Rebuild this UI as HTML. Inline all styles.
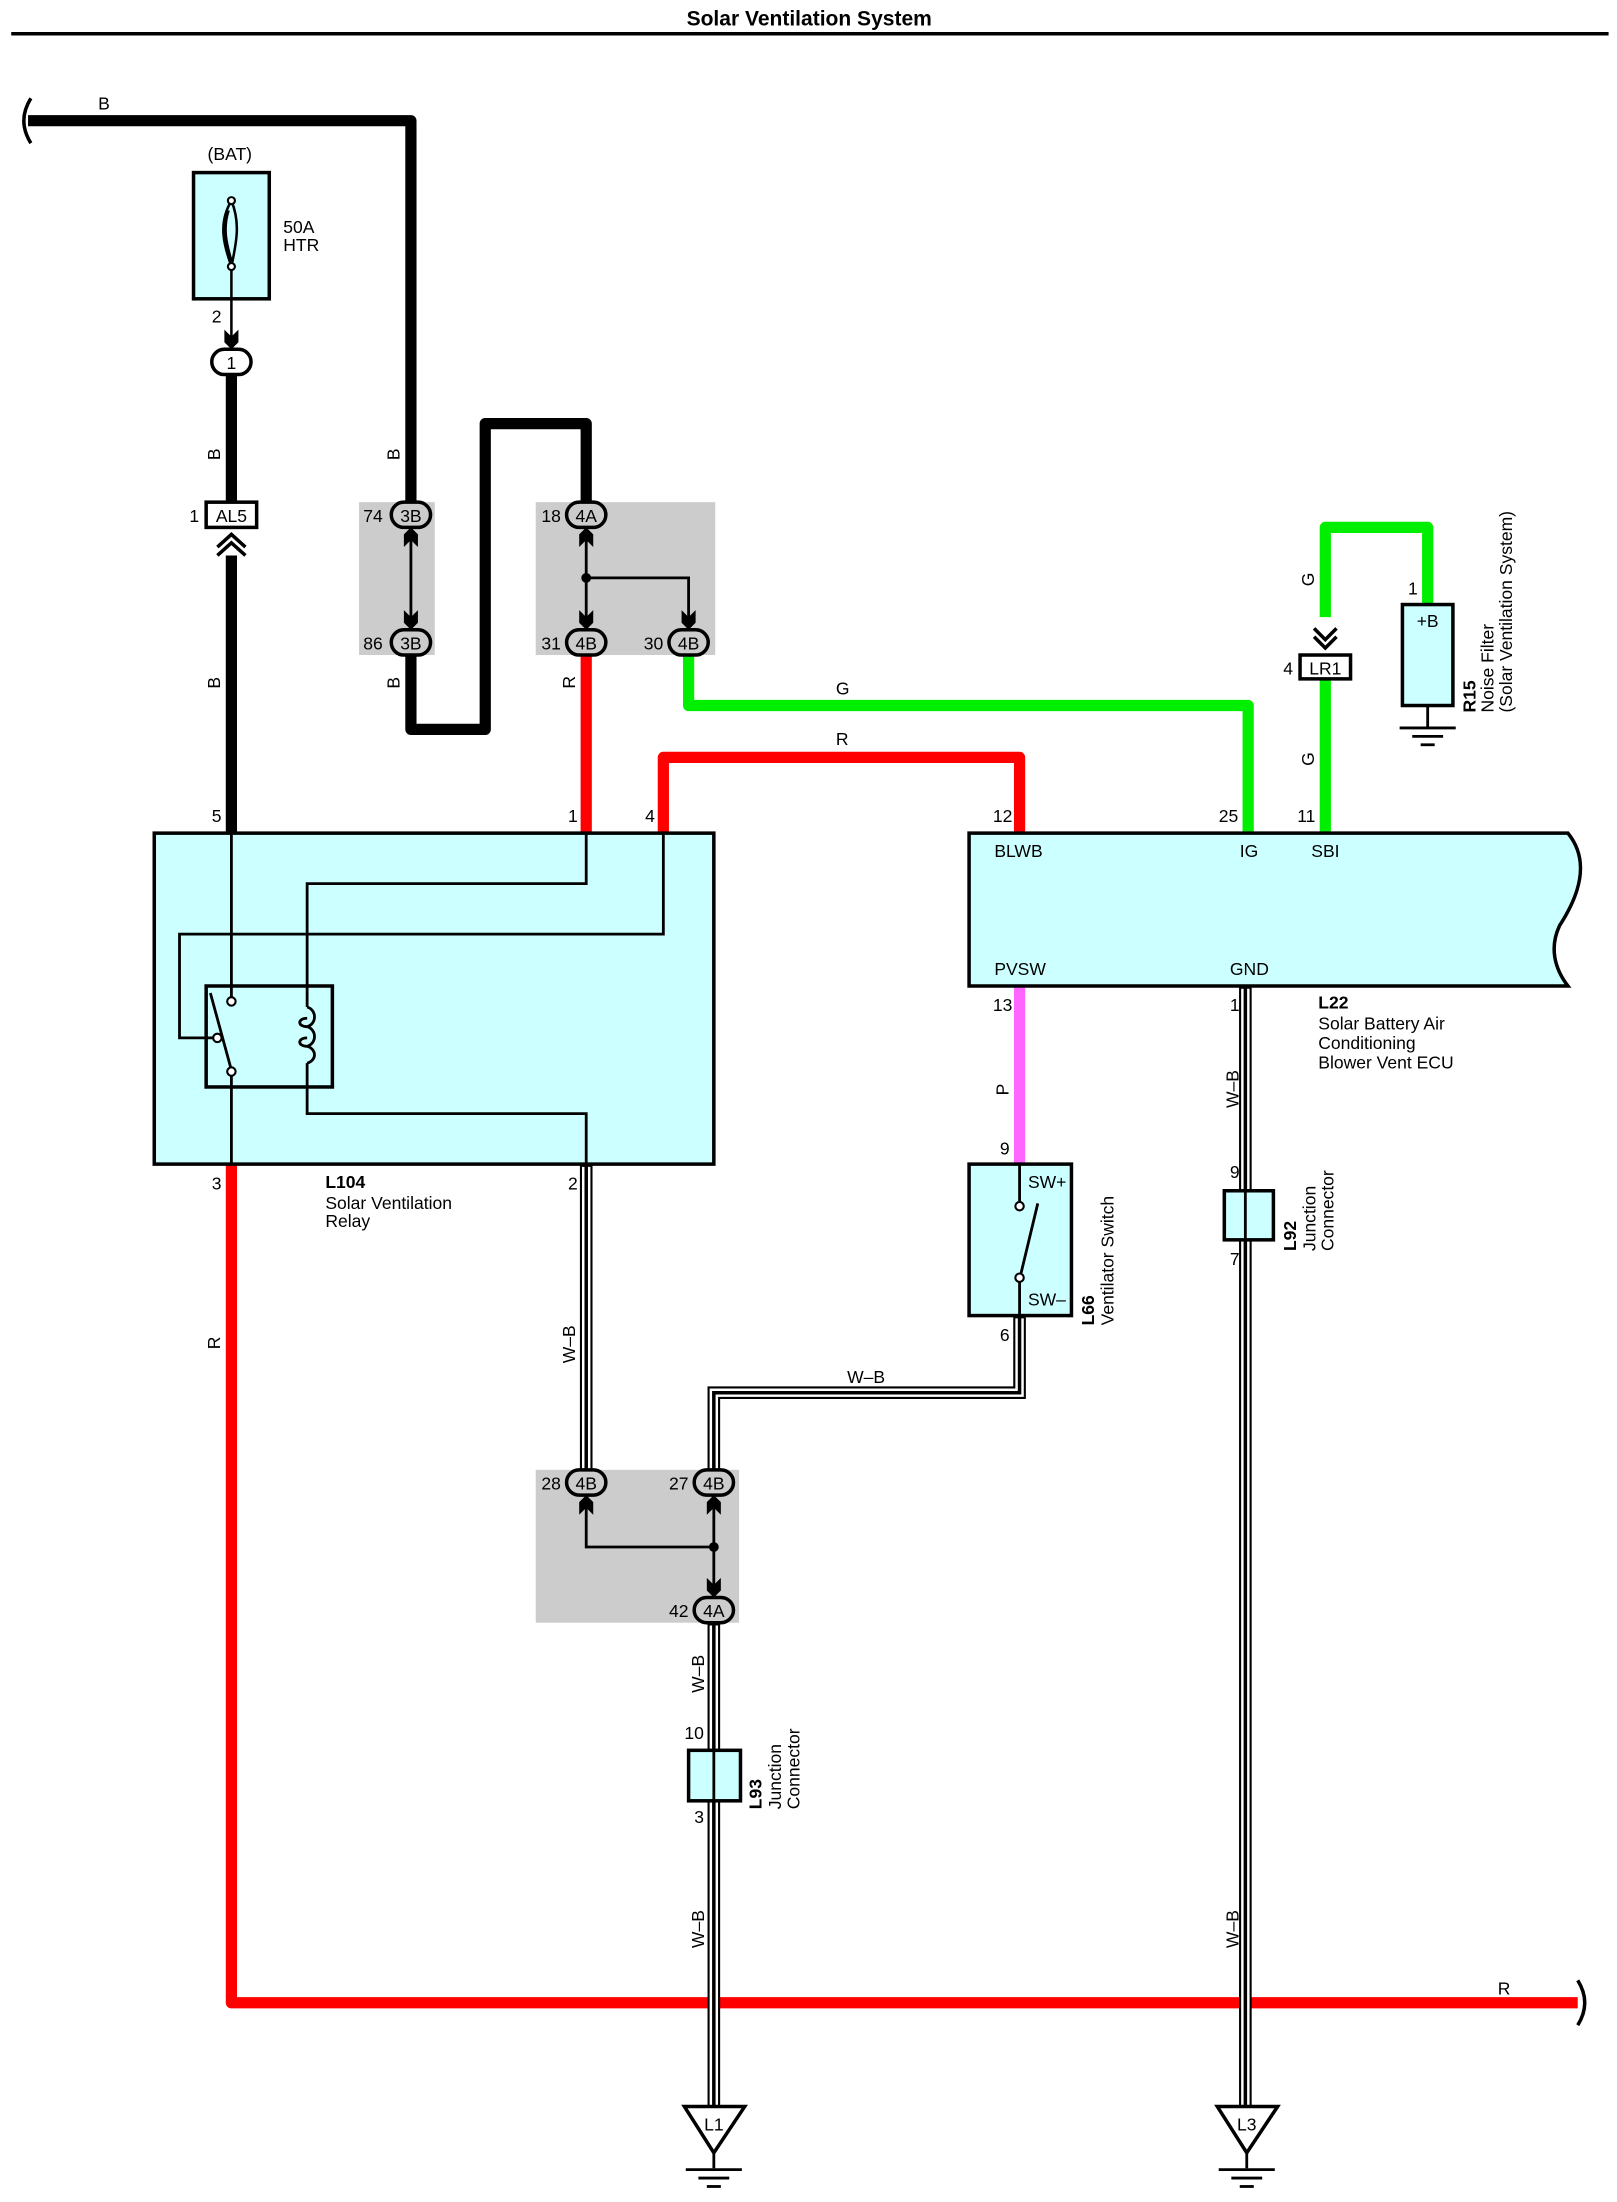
<!DOCTYPE html>
<html><head><meta charset="utf-8"><style>
html,body{margin:0;padding:0;background:#fff}
svg{display:block}
text{font-family:"Liberation Sans",sans-serif;font-size:12.5px;fill:#000}
.b{font-weight:bold}
</style></head><body>
<svg width="1617" height="2202" viewBox="0 0 1153 1570" xmlns="http://www.w3.org/2000/svg">
<defs>
<g id="au"><polygon points="-5,14 -5,5 0,0 5,5 5,14 0,9" fill="#000"/></g>
<g id="ad"><polygon points="-5,-14 -5,-5 0,0 5,-5 5,-14 0,-9" fill="#000"/></g>
<g id="gnd"><line x1="-20" y1="0" x2="20" y2="0" stroke="#000" stroke-width="2"/><line x1="-11" y1="6" x2="11" y2="6" stroke="#000" stroke-width="2"/><line x1="-5" y1="12" x2="5" y2="12" stroke="#000" stroke-width="2"/></g>
</defs>
<text x="577" y="18" text-anchor="middle" class="b" style="font-size:15px">Solar Ventilation System</text>
<line x1="8" y1="24" x2="1147" y2="24" stroke="#000" stroke-width="2.5"/>

<!-- grey boxes -->
<rect x="256" y="358" width="54" height="109" fill="#cccccc"/>
<rect x="382" y="358" width="128" height="109" fill="#cccccc"/>
<rect x="382" y="1048" width="145" height="109" fill="#cccccc"/>

<!-- black wires -->
<g fill="none" stroke="#000" stroke-width="8" stroke-linejoin="round">
<polyline points="20,86 293,86 293,358"/>
<polyline points="293,467 293,520 346,520 346,302 418,302 418,358"/>
<line x1="165" y1="268" x2="165" y2="358"/>
<line x1="165" y1="396" x2="165" y2="594"/>
</g>
<path d="M22,70 Q12,86 22,102" fill="none" stroke="#000" stroke-width="2.5"/>
<text x="70" y="78">B</text>

<!-- red wires -->
<g fill="none" stroke="#ff0000" stroke-width="8" stroke-linejoin="round">
<line x1="418" y1="467" x2="418" y2="594"/>
<polyline points="473,594 473,540 727,540 727,594"/>
<polyline points="165,830 165,1428 1125,1428"/>
</g>
<path d="M1125,1412 Q1135,1428 1125,1444" fill="none" stroke="#000" stroke-width="2.5"/>
<!-- green -->
<g fill="none" stroke="#00ee00" stroke-width="8" stroke-linejoin="round">
<polyline points="491,467 491,503 890,503 890,594"/>
<polyline points="945,594 945,484"/>
<polyline points="945,440 945,376 1018,376 1018,431"/>
</g>
<!-- pink -->
<line x1="727" y1="703" x2="727" y2="830" stroke="#ff66ff" stroke-width="8"/>

<!-- W-B wires -->
<g fill="none" stroke-linejoin="miter">
<g stroke="#000" stroke-width="9">
<polyline points="418,830 418,1048"/>
<polyline points="727,938 727,993 509,993 509,1048"/>
<polyline points="888,703 888,1502"/>
<polyline points="509,1157 509,1502"/>
</g>
<g stroke="#fff" stroke-width="6">
<polyline points="418,832 418,1048"/>
<polyline points="727,940 727,993 509,993 509,1048"/>
<polyline points="888,705 888,1502"/>
<polyline points="509,1159 509,1502"/>
</g>
<g stroke="#000" stroke-width="2.5">
<polyline points="418,830 418,1048"/>
<polyline points="727,938 727,993 509,993 509,1048"/>
<polyline points="888,703 888,1502"/>
<polyline points="509,1157 509,1502"/>
</g>
</g>

<!-- fuse -->
<text x="148" y="114">(BAT)</text>
<rect x="138" y="123" width="54" height="90" fill="#ccffff" stroke="#000" stroke-width="2.5"/>
<path d="M165,143 C155,160 160,175 165,190 M165,143 C172,160 168,175 165,190 M163,150 C158,165 163,178 165,186" fill="none" stroke="#000" stroke-width="1.8"/>
<circle cx="165" cy="143" r="2.5" fill="#fff" stroke="#000" stroke-width="1.5"/>
<circle cx="165" cy="190" r="2.5" fill="#fff" stroke="#000" stroke-width="1.5"/>
<text x="202" y="166">50A</text><text x="202" y="179">HTR</text>
<line x1="165" y1="192" x2="165" y2="248" stroke="#000" stroke-width="1.8"/>
<text x="151" y="230">2</text>
<use href="#ad" x="165" y="249"/>
<rect x="151" y="249" width="28" height="18" rx="9" fill="#fff" stroke="#000" stroke-width="2.5"/>
<text x="165" y="263" text-anchor="middle">1</text>

<!-- AL5 -->
<rect x="147" y="358" width="36" height="18" fill="#fff" stroke="#000" stroke-width="2.5"/>
<text x="165" y="372" text-anchor="middle">AL5</text>
<text x="135" y="372">1</text>
<path d="M155,390 L165,381 L175,390 M155,396 L165,387 L175,396" fill="none" stroke="#000" stroke-width="2.5"/>

<!-- connectors helper: oval -->
<g stroke="#000" stroke-width="2.5" fill="#cccccc">
<rect x="279" y="358" width="28" height="18" rx="9"/>
<rect x="279" y="449" width="28" height="18" rx="9"/>
<rect x="404" y="358" width="28" height="18" rx="9"/>
<rect x="404" y="449" width="28" height="18" rx="9"/>
<rect x="477" y="449" width="28" height="18" rx="9"/>
<rect x="404" y="1048" width="28" height="18" rx="9"/>
<rect x="495" y="1048" width="28" height="18" rx="9"/>
<rect x="495" y="1139" width="28" height="18" rx="9"/>
</g>
<g text-anchor="middle">
<text x="293" y="372">3B</text><text x="293" y="463">3B</text>
<text x="418" y="372">4A</text><text x="418" y="463">4B</text><text x="491" y="463">4B</text>
<text x="418" y="1062">4B</text><text x="509" y="1062">4B</text><text x="509" y="1153">4A</text>
</g>
<text x="259" y="372">74</text><text x="259" y="463">86</text>
<text x="386" y="372">18</text><text x="386" y="463">31</text><text x="459" y="463">30</text>
<text x="386" y="1062">28</text><text x="477" y="1062">27</text><text x="477" y="1153">42</text>

<!-- junction internals -->
<g stroke="#000" stroke-width="2" fill="none">
<line x1="293" y1="378" x2="293" y2="447"/>
<line x1="418" y1="378" x2="418" y2="447"/>
<polyline points="418,412 491,412 491,447"/>
<polyline points="418,1068 418,1103 509,1103"/>
<line x1="509" y1="1068" x2="509" y2="1137"/>
</g>
<circle cx="418" cy="412" r="3.5"/><circle cx="509" cy="1103" r="3.5"/>
<use href="#au" x="293" y="376"/><use href="#ad" x="293" y="449"/>
<use href="#au" x="418" y="376"/><use href="#ad" x="418" y="449"/><use href="#ad" x="491" y="449"/>
<use href="#au" x="418" y="1066"/><use href="#au" x="509" y="1066"/><use href="#ad" x="509" y="1139"/>

<!-- relay -->
<rect x="110" y="594" width="399" height="236" fill="#ccffff" stroke="#000" stroke-width="2.5"/>
<g stroke="#000" stroke-width="2" fill="none">
<line x1="165" y1="594" x2="165" y2="711"/>
<line x1="165" y1="767" x2="165" y2="830"/>
<polyline points="418,594 418,630 219,630 219,718"/>
<polyline points="473,594 473,666 128,666 128,740 152,740"/>
<polyline points="219,758 219,794 418,794 418,830"/>
<rect x="147" y="703" width="90" height="72" stroke-width="2.5"/>
<line x1="150" y1="708" x2="165" y2="763"/>
<path d="M219,718 C226,720 226,730 219,732 C212,732 212,726 219,726 M219,732 C226,734 226,744 219,746 C212,746 212,740 219,740 M219,746 C226,748 226,756 219,758"/>
</g>
<g fill="#fff" stroke="#000" stroke-width="1.5">
<circle cx="165" cy="714" r="3"/><circle cx="165" cy="764" r="3"/><circle cx="155" cy="740" r="3"/>
</g>
<text x="151" y="586">5</text><text x="405" y="586">1</text><text x="460" y="586">4</text>
<text x="151" y="848">3</text><text x="405" y="848">2</text>
<text x="232" y="847" class="b">L104</text>
<text x="232" y="862">Solar Ventilation</text>
<text x="232" y="875">Relay</text>

<!-- ECU -->
<path d="M691,594 L1118,594 C1135,615 1125,640 1112,660 C1105,675 1108,690 1118,703 L691,703 Z" fill="#ccffff" stroke="#000" stroke-width="2.5"/>
<text x="709" y="611">BLWB</text><text x="884" y="611">IG</text><text x="935" y="611">SBI</text>
<text x="709" y="695">PVSW</text><text x="877" y="695">GND</text>
<text x="708" y="586">12</text><text x="869" y="586">25</text><text x="925" y="586">11</text>
<text x="708" y="721">13</text><text x="877" y="721">1</text>
<text x="940" y="719" class="b">L22</text>
<text x="940" y="734">Solar Battery Air</text>
<text x="940" y="748">Conditioning</text>
<text x="940" y="762">Blower Vent ECU</text>

<!-- LR1 + noise filter -->
<path d="M937,448 L945,456 L953,448 M937,454 L945,462 L953,454" fill="none" stroke="#000" stroke-width="2.5"/>
<rect x="927" y="467" width="36" height="17" fill="#fff" stroke="#000" stroke-width="2.5"/>
<text x="945" y="481" text-anchor="middle">LR1</text>
<text x="915" y="481">4</text>
<text x="1004" y="424">1</text>
<rect x="1000" y="431" width="36" height="72" fill="#ccffff" stroke="#000" stroke-width="2.5"/>
<text x="1018" y="447" text-anchor="middle">+B</text>
<line x1="1018" y1="503" x2="1018" y2="518" stroke="#000" stroke-width="2"/>
<use href="#gnd" x="1018" y="519"/>
<g transform="translate(1052,508) rotate(-90)"><text x="0" y="0" class="b">R15</text><text x="0" y="13">Noise Filter</text><text x="0" y="26">(Solar Ventilation System)</text></g>

<!-- L66 switch -->
<text x="713" y="823">9</text>
<rect x="691" y="830" width="73" height="108" fill="#ccffff" stroke="#000" stroke-width="2.5"/>
<g stroke="#000" stroke-width="2" fill="none">
<line x1="727" y1="830" x2="727" y2="857"/>
<line x1="727" y1="914" x2="727" y2="938"/>
<line x1="740" y1="858" x2="728" y2="908"/>
</g>
<circle cx="727" cy="860" r="3" fill="#fff" stroke="#000" stroke-width="1.5"/>
<circle cx="727" cy="911" r="3" fill="#fff" stroke="#000" stroke-width="1.5"/>
<text x="733" y="847">SW+</text><text x="733" y="931">SW–</text>
<text x="713" y="956">6</text>
<g transform="translate(780,945) rotate(-90)"><text x="0" y="0" class="b">L66</text><text x="0" y="14">Ventilator Switch</text></g>

<!-- L92 -->
<rect x="873" y="849" width="35" height="35" fill="#ccffff" stroke="#000" stroke-width="2.5"/>
<line x1="888" y1="849" x2="888" y2="884" stroke="#000" stroke-width="2"/>
<text x="877" y="840">9</text><text x="877" y="902">7</text>
<g transform="translate(924,892) rotate(-90)"><text x="0" y="0" class="b">L92</text><text x="0" y="14">Junction</text><text x="0" y="27">Connector</text></g>

<!-- L93 -->
<rect x="491" y="1248" width="37" height="36" fill="#ccffff" stroke="#000" stroke-width="2.5"/>
<line x1="509" y1="1248" x2="509" y2="1284" stroke="#000" stroke-width="2"/>
<text x="488" y="1240">10</text><text x="495" y="1300">3</text>
<g transform="translate(543,1290) rotate(-90)"><text x="0" y="0" class="b">L93</text><text x="0" y="14">Junction</text><text x="0" y="27">Connector</text></g>

<!-- grounds -->
<polygon points="488,1502 531,1502 509,1535" fill="#fff" stroke="#000" stroke-width="2.5"/>
<text x="509" y="1519" text-anchor="middle">L1</text>
<line x1="509" y1="1535" x2="509" y2="1546" stroke="#000" stroke-width="2"/>
<use href="#gnd" x="509" y="1547"/>
<polygon points="868,1502 911,1502 889,1535" fill="#fff" stroke="#000" stroke-width="2.5"/>
<text x="889" y="1519" text-anchor="middle">L3</text>
<line x1="889" y1="1535" x2="889" y2="1546" stroke="#000" stroke-width="2"/>
<use href="#gnd" x="889" y="1547"/>

<!-- wire labels -->
<g>
<text transform="translate(157,328) rotate(-90)">B</text>
<text transform="translate(285,328) rotate(-90)">B</text>
<text transform="translate(157,491) rotate(-90)">B</text>
<text transform="translate(285,491) rotate(-90)">B</text>
<text transform="translate(410,491) rotate(-90)">R</text>
<text transform="translate(937,418) rotate(-90)">G</text>
<text transform="translate(937,546) rotate(-90)">G</text>
<text transform="translate(719,781) rotate(-90)">P</text>
<text transform="translate(883,790) rotate(-90)">W–B</text>
<text transform="translate(157,962) rotate(-90)">R</text>
<text transform="translate(410,972) rotate(-90)">W–B</text>
<text transform="translate(502,1207) rotate(-90)">W–B</text>
<text transform="translate(502,1389) rotate(-90)">W–B</text>
<text transform="translate(883,1389) rotate(-90)">W–B</text>
</g>
<text x="596" y="495">G</text>
<text x="596" y="531">R</text>
<text x="604" y="986">W–B</text>
<text x="1068" y="1422">R</text>
</svg>
</body></html>
